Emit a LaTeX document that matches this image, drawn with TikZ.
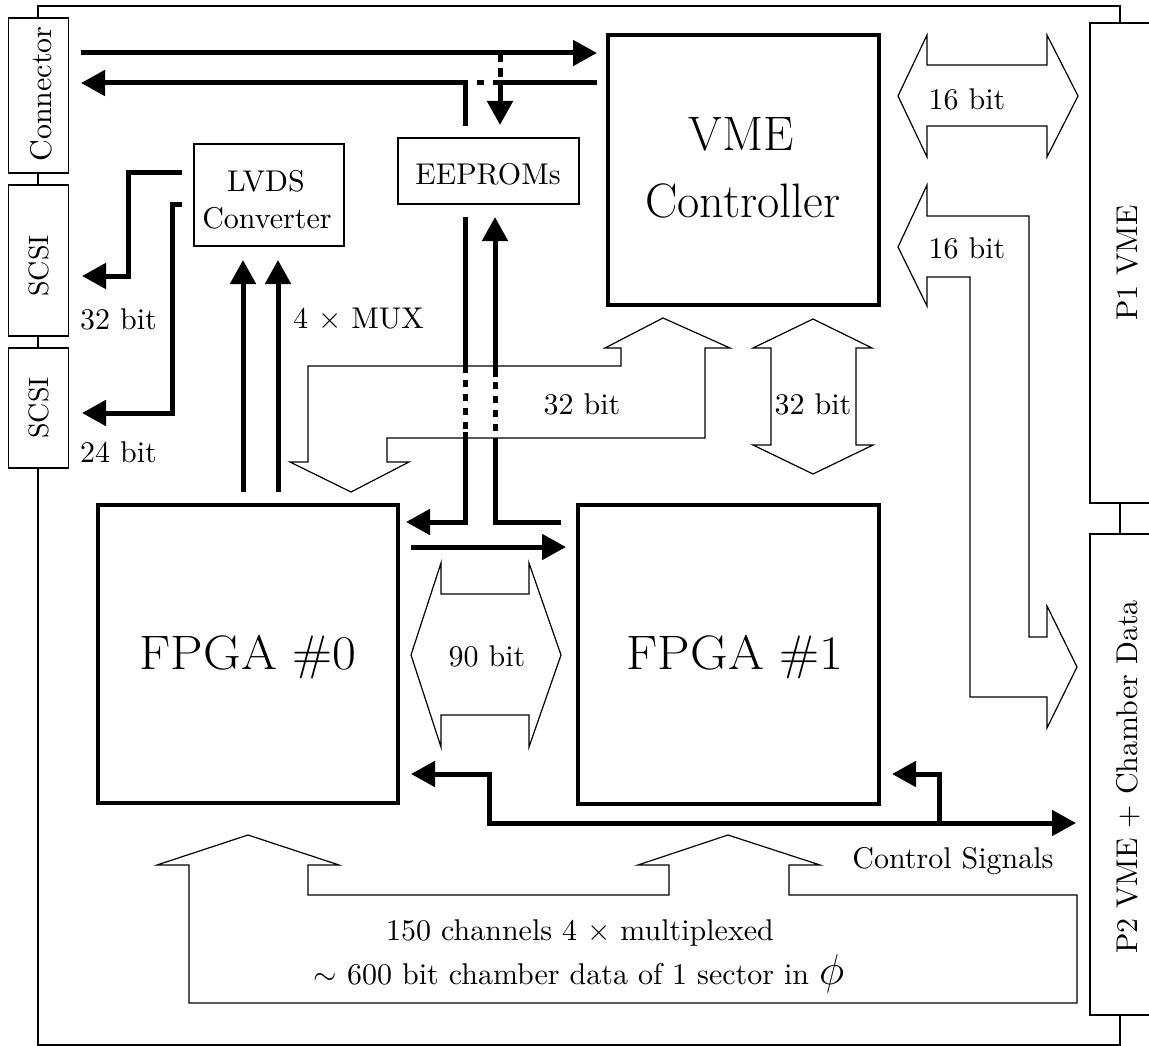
\documentclass[tikz,border=0pt]{standalone}
\usepackage{graphicx}
\usetikzlibrary{arrows.meta}
\newcommand{\mytext}[1]{\scalebox{3}{#1}}
\newcommand{\scsitext}[1]{\scalebox{2.8}{#1}}
\newcommand{\vmetext}[1]{\scalebox{2.8}{\fontsize{17.28}{20}\selectfont #1}}
\newcommand{\fpgatext}[1]{\scalebox{3.0}[2.8]{\fontsize{17.28}{20}\selectfont #1}}
\begin{document}
\begin{tikzpicture}[x=1pt,y=-1pt,
  bl/.style={line width=1.2pt},
  wire/.style={line width=5pt},
  dwire/.style={line width=5pt, dash pattern=on 7pt off 7pt, dash phase=7pt},
  arr/.style={-{Triangle[length=24pt,width=25pt]}},
  darr/.style={{Triangle[length=24pt,width=25pt]}-{Triangle[length=24pt,width=25pt]}},
  sbox/.style={draw, line width=1.2pt, inner sep=0pt},
  bbox/.style={draw, line width=4.5pt, inner sep=0pt},
  tx/.style={inner sep=0pt, anchor=base},
]
\useasboundingbox (0,0) rectangle (1149,1046);
\fill[white] (0,0) rectangle (1149,1046);
\clip (0,0) rectangle (1149,1046);

% ---------- board outline ----------
\draw[bl] (38,18) -- (38,6) -- (1120,6) -- (1120,23);
\draw[bl] (38,173) -- (38,185);
\draw[bl] (38,336) -- (38,348);
\draw[bl] (38,468) -- (38,1045) -- (1120,1045) -- (1120,1015);
\draw[bl] (1120,503) -- (1120,534);

% ---------- connector boxes ----------
\node[sbox, rotate=90, minimum width=155pt, minimum height=60pt] (conn) at (38.5,95.5) {};
\node[tx, rotate=90] (connt) at (51,94) {\mytext{Connector}};
\node[sbox, rotate=90, minimum width=151pt, minimum height=60pt] (scsiA) at (38.5,260.5) {};
\node[tx, rotate=90] (scsiAt) at (48,266) {\scsitext{SCSI}};
\node[sbox, rotate=90, minimum width=120pt, minimum height=60pt] (scsiB) at (38.5,408) {};
\node[tx, rotate=90] (scsiBt) at (48,408) {\scsitext{SCSI}};

\node[sbox, rotate=90, minimum width=480pt, minimum height=90pt] (p1) at (1135,263) {};
\node[tx, rotate=90] (p1t) at (1137,263) {\mytext{P1 VME}};
\node[sbox, rotate=90, minimum width=481pt, minimum height=90pt] (p2) at (1135,774.5) {};
\node[tx, rotate=90] (p2t) at (1137,777) {\mytext{P2 VME $+$ Chamber Data}};

% ---------- main blocks ----------
\node[bbox, minimum width=271pt, minimum height=270pt] (vme) at (743.5,170) {};
\node[tx] (vme1) at (741,150) {\vmetext{VME}};
\node[tx] (vme2) at (743,218) {\vmetext{Controller}};

\node[bbox, minimum width=300pt, minimum height=298pt] (fpga0) at (248,654) {};
\node[tx] (fpga0t) at (248,669) {\fpgatext{FPGA \#0}};
\node[bbox, minimum width=301pt, minimum height=299pt] (fpga1) at (728.5,654.5) {};
\node[tx] (fpga1t) at (735,669) {\fpgatext{FPGA \#1}};

\node[sbox, minimum width=150pt, minimum height=102pt] (lvds) at (269,195) {};
\node[tx] (lvds1) at (266,192) {\mytext{LVDS}};
\node[tx] (lvds2) at (267,228) {\mytext{Converter}};

\node[sbox, minimum width=181pt, minimum height=66pt] (eeprom) at (488.5,171) {};
\node[tx] (eepromt) at (488,185) {\mytext{EEPROMs}};

% ---------- labels ----------
\node[tx] (l32a) at (118.5,329) {\mytext{32 bit}};
\node[tx] (l24) at (118.5,462) {\mytext{24 bit}};
\node[tx] (lmux) at (358.5,328) {\mytext{4 $\times$ MUX}};
\node[tx] (l32b) at (582,414) {\mytext{32 bit}};
\node[tx] (l32c) at (813,414) {\mytext{32 bit}};
\node[tx] (l16a) at (967,110) {\mytext{16 bit}};
\node[tx] (l16b) at (967,258) {\mytext{16 bit}};
\node[tx] (l90) at (487,666) {\mytext{90 bit}};
\node[tx] (lcs) at (953,868) {\mytext{Control Signals}};
\node[tx] (lb1) at (580,940) {\mytext{150 channels 4 $\times$ multiplexed}};
\node[tx] (lb2) at (579,984) {\mytext{$\sim$ 600 bit chamber data of 1 sector in {\Large$\phi$}}};

% ---------- block (bus) arrows ----------
\draw[bl, line join=miter] (898,96) -- (927,35) -- (927,65) -- (1047,65) -- (1047,35) -- (1078,96)
  -- (1047,157) -- (1047,126) -- (927,126) -- (927,157) -- cycle;
\draw[bl, line join=miter] (898,247) -- (927,185) -- (927,216) -- (1029,216) -- (1029,637) -- (1047,637)
  -- (1047,606) -- (1077,667) -- (1047,728) -- (1047,697) -- (970,697) -- (970,277) -- (927,277)
  -- (927,306) -- cycle;
\draw[bl, line join=miter] (813,319) -- (872,348) -- (856,348) -- (856,445) -- (873,445) -- (813,474)
  -- (753,445) -- (771,445) -- (771,348) -- (753,348) -- cycle;
\draw[bl, line join=miter] (663,318) -- (730,348) -- (705,348) -- (705,438) -- (387,438) -- (387,462)
  -- (409,462) -- (351,492) -- (290,462) -- (308,462) -- (308,366) -- (621,366) -- (621,348)
  -- (605,348) -- cycle;
\draw[bl, line join=miter] (411,655) -- (441,563) -- (441,594) -- (529,594) -- (529,563) -- (561,655)
  -- (529,747) -- (529,715) -- (441,715) -- (441,747) -- cycle;
\draw[bl, line join=miter] (248,835) -- (339,865) -- (308,865) -- (308,895) -- (669,895) -- (669,865)
  -- (638,865) -- (728,835) -- (820,865) -- (789,865) -- (789,895) -- (1077,895) -- (1077,1003)
  -- (189,1003) -- (189,865) -- (157,865) -- cycle;

% ---------- named free ends ----------
\coordinate (cTopL) at (81,53);
\coordinate (cTopR) at (597,53);
\coordinate (cLowR) at (597,83);
\coordinate (cLowL) at (81,83);

% ---------- thick signal lines ----------
% connector <-> VME
\draw[wire, arr] (cTopL) -- (cTopR);
\draw[wire] (cLowR) -- (493,83);
\draw[wire] (484,83) -- (477,83);
\draw[wire, arr] (465,126) -- (465,83) -- (cLowL);
\draw[wire] (500,55) -- (500,62);
\draw[wire] (500,68) -- (500,77);
\draw[wire, arr] (500,80) -- (500,125);

% EEPROM <-> FPGAs
\draw[wire] (465,217) -- (465,373);
\draw[dwire] (465,373) -- (465,432);
\draw[wire, arr] (465,432) -- (465,522) -- (406,522);
\draw[wire] (561,522) -- (495,522) -- (495,438);
\draw[dwire] (495,438) -- (495,377);
\draw[wire, arr] (495,377) -- (495,217);

% FPGA0 -> FPGA1
\draw[wire, arr] (411,547) -- (566,547);

% FPGA0 -> LVDS
\draw[wire, arr] (243,492) -- (243,260);
\draw[wire, arr] (278,492) -- (278,260);

% LVDS -> SCSI
\draw[wire, arr] (182,173) -- (128,173) -- (128,276) -- (82,276);
\draw[wire, arr] (182,204) -- (172,204) -- (172,413) -- (82,413);

% control signals
\draw[wire, darr] (411,774) -- (489,774) -- (489,823) -- (1076,823);
\draw[wire, arr] (939,823) -- (939,774) -- (892,774);
\end{tikzpicture}
\end{document}
